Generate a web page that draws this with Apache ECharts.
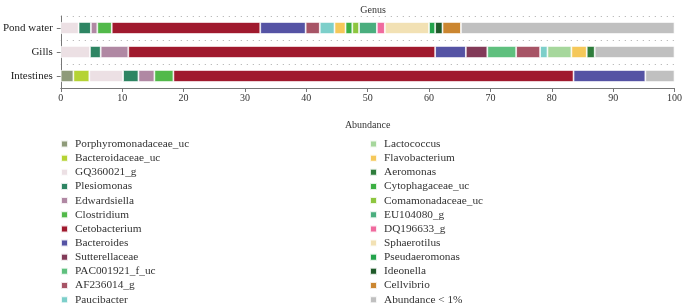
<!DOCTYPE html>
<html>
<head>
<meta charset="utf-8">
<script src="https://cdn.jsdelivr.net/npm/echarts@6/dist/echarts.min.js"></script>
<style>
  html, body { margin: 0; padding: 0; background: #fff; }
  #chart { width: 685px; height: 303px; }
</style>
</head>
<body>
<div id="chart"></div>
<script type="text/javascript">
    // samples, top to bottom
    var samples = ['Pond water', 'Gills', 'Intestines'];
    var xTicks = [0, 10, 20, 30, 40, 50, 60, 70, 80, 90, 100];

    // genus names (legend order = stack order)
    var genera = [
        'Porphyromonadaceae_uc', 'Bacteroidaceae_uc', 'GQ360021_g', 'Plesiomonas',
        'Edwardsiella', 'Clostridium', 'Cetobacterium', 'Bacteroides',
        'Sutterellaceae', 'PAC001921_f_uc', 'AF236014_g', 'Paucibacter',
        'Lactococcus', 'Flavobacterium', 'Aeromonas', 'Cytophagaceae_uc',
        'Comamonadaceae_uc', 'EU104080_g', 'DQ196633_g', 'Sphaerotilus',
        'Pseudaeromonas', 'Ideonella', 'Cellvibrio', 'Abundance < 1%'
    ];
    var colors = [
        '#8f9b7a', '#b5d334', '#ece0e4', '#2e8563',
        '#b088a3', '#52b94a', '#a01a2e', '#5553a4',
        '#823a58', '#5fc07e', '#a75466', '#7dcfca',
        '#a6d79c', '#f5c85a', '#2f7d3c', '#3cb043',
        '#8dc63f', '#4aae7e', '#f06a9e', '#f2e1b4',
        '#22a34b', '#1f5a2a', '#cb8630', '#c0c0c0'
    ];

    // abundance (%) per genus: [Pond water, Gills, Intestines]
    var porphyromonadaceae = [0, 0, 2.05];
    var bacteroidaceae     = [0, 0, 2.6];
    var gq360021           = [2.9, 4.75, 5.5];
    var plesiomonas        = [2.0, 1.75, 2.5];
    var edwardsiella       = [1.05, 4.5, 2.6];
    var clostridium        = [2.35, 0, 3.1];
    var cetobacterium      = [24.2, 50.0, 65.2];
    var bacteroides        = [7.4, 5.0, 11.7];
    var sutterellaceae     = [0, 3.5, 0];
    var pac001921          = [0, 4.7, 0];
    var af236014           = [2.3, 3.9, 0];
    var paucibacter        = [2.4, 1.2, 0];
    var lactococcus        = [0, 3.9, 0];
    var flavobacterium     = [1.8, 2.5, 0];
    var aeromonas          = [0, 1.3, 0];
    var cytophagaceae      = [1.1, 0, 0];
    var comamonadaceae     = [1.1, 0, 0];
    var eu104080           = [2.9, 0, 0];
    var dq196633           = [1.3, 0, 0];
    var sphaerotilus       = [7.2, 0, 0];
    var pseudaeromonas     = [1.0, 0, 0];
    var ideonella          = [1.2, 0, 0];
    var cellvibrio         = [3.0, 0, 0];
    var lowAbundance       = [34.8, 13.0, 4.75];

    var values = [
        porphyromonadaceae, bacteroidaceae, gq360021, plesiomonas,
        edwardsiella, clostridium, cetobacterium, bacteroides,
        sutterellaceae, pac001921, af236014, paucibacter,
        lactococcus, flavobacterium, aeromonas, cytophagaceae,
        comamonadaceae, eu104080, dq196633, sphaerotilus,
        pseudaeromonas, ideonella, cellvibrio, lowAbundance
    ];

    var font = 'Liberation Serif';

    var series = genera.map(function (name, i) {
        return {
            name: name,
            type: 'bar',
            stack: 'total',
            barWidth: 12,
            data: values[i].map(function (v) { return v > 0 ? v : '-'; }),
            itemStyle: { color: colors[i], borderColor: 'rgba(255,255,255,0.85)', borderWidth: 0.8 }
        };
    });

    function legendCfg(names, left) {
        return {
            data: names,
            orient: 'vertical',
            left: left,
            top: 133,
            height: 200,
            icon: 'rect',
            itemWidth: 7,
            itemHeight: 7,
            itemGap: 2.15,
            textStyle: { fontFamily: font, fontSize: 11.3, color: '#333', lineHeight: 12, padding: [0, 0, 0, 2] }
        };
    }

    var myChart = echarts.init(document.getElementById('chart'));
    var option = {
        animation: false,
        color: colors,
        title: {
            text: 'Genus',
            left: 368,
            top: 0,
            textAlign: 'center',
            textStyle: { fontFamily: font, fontSize: 10, fontWeight: 'normal', color: '#333' }
        },
        legend: [
            legendCfg(genera.slice(0, 12), 55),
            legendCfg(genera.slice(12), 364)
        ],
        grid: { left: 60, right: 7, top: 16, bottom: 215 },
        xAxis: {
            type: 'value',
            min: 0,
            max: 100,
            interval: 10,
            name: 'Abundance',
            nameLocation: 'middle',
            nameGap: 32,
            nameTextStyle: { fontFamily: font, fontSize: 10, color: '#333' },
            axisLine: { show: true, lineStyle: { color: '#777', width: 1 } },
            axisTick: { show: true, length: 4, lineStyle: { color: '#777' } },
            axisLabel: { fontFamily: font, fontSize: 10, color: '#333', margin: 5 },
            splitLine: { show: false }
        },
        yAxis: {
            type: 'category',
            data: samples,
            inverse: true,
            axisLine: { show: true, lineStyle: { color: '#777', width: 1 } },
            axisTick: { show: true, alignWithLabel: true, length: 4, lineStyle: { color: '#777' } },
            axisLabel: { fontFamily: font, fontSize: 11, color: '#222', margin: 8 },
            splitLine: { show: true, lineStyle: { color: '#aaa', type: [1, 5], width: 1 } }
        },
        series: series
    };
    myChart.setOption(option);
</script>
</body>
</html>
